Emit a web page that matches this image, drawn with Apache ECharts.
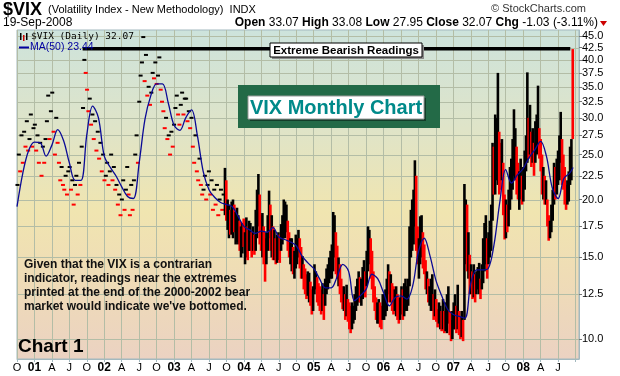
<!DOCTYPE html>
<html>
<head>
<meta charset="utf-8">
<script src="https://cdn.jsdelivr.net/npm/echarts@6/dist/echarts.min.js"></script>
<style>
  html, body { margin: 0; padding: 0; background: #fff; }
  #chart { width: 620px; height: 376px; }
</style>
</head>
<body>
<div id="chart"></div>
<script>
// ---- data ------------------------------------------------------------------

// weekly closes before Sep 2003 (drawn as ticks), first week starts 2000-10-02
const ticks2000 = [21.5, 25.0, 23.0, 27.5, 24.0, 28.0, 26.0, 29.5, 25.5, 27.0, 30.5, 26.0, 28.5];
const ticks2001 = [29.0, 25.5, 27.5, 24.0, 26.5, 22.5, 26.0, 24.0, 27.0, 29.5, 33.5, 27.0, 31.0,
  34.0, 28.0, 25.0, 30.0, 26.5, 24.0, 22.0, 23.5, 21.5, 21.0, 22.5, 20.5, 23.0,
  23.5, 21.0, 22.0, 19.5, 21.5, 22.5, 20.5, 24.0, 21.5, 26.0, 31.5, 40.0, 37.5,
  34.5, 31.0, 33.0, 29.0, 30.5, 27.0, 29.5, 25.5, 28.0, 24.5, 26.5, 23.0, 25.0, 22.0];
const ticks2002 = [22.5, 24.0, 21.5, 23.0, 25.0, 22.0, 23.5, 21.0, 21.5, 19.5, 20.5, 18.5,
  20.0, 22.0, 19.0, 21.0, 23.5, 20.5, 18.5, 21.5, 19.0, 22.0, 25.0, 27.5, 24.0,
  32.5, 37.0, 39.5, 44.8, 36.0, 41.0, 33.5, 35.0, 32.0, 34.0, 37.5, 36.5, 39.5, 35.5,
  37.0, 40.5, 34.5, 32.5, 31.0, 28.5, 30.0, 27.0, 27.5, 25.0, 28.0, 26.0, 29.0];
const ticks2003 = [31.5, 33.5, 30.5, 29.0, 32.0, 34.0, 30.5, 33.0, 33.0, 29.5, 31.0, 28.5, 30.0,
  26.0, 24.0, 27.5, 23.0, 22.0, 24.5, 21.5, 20.5, 21.0, 22.5, 20.0, 21.5, 23.0,
  20.5, 22.0, 19.0, 21.0, 19.5, 21.5, 18.5, 20.0, 21.0, 19.0, 20.5];

// weekly [low, high, down] bars from the week of 2003-09-22
const bars2003 = [[18.5,23.4,0],[18.0,22.0,1],
  [17.2,20.0,0],[16.5,19.5,0],[16.8,19.0,1],[16.8,19.8,0],
  [16.5,20.0,0],[17.0,19.5,1],[16.0,18.8,0],[16.2,19.2,0],
  [16.0,18.5,0],[15.5,18.0,1],[15.0,17.5,0],[15.3,17.8,0],[15.8,18.2,1]];
const bars2004 = [[14.5,17.0,0],[15.0,18.3,0],[14.8,17.5,1],[15.5,18.0,0],
  [15.5,17.8,0],[15.0,17.0,1],[15.5,17.5,0],[15.2,16.8,1],
  [15.5,19.0,0],[16.5,21.0,0],[17.5,22.7,0],[16.0,20.5,1],[15.5,18.5,1],
  [15.0,18.7,0],[14.5,17.5,1],[13.3,16.5,1],[14.5,17.0,0],
  [15.5,18.5,0],[16.5,20.9,0],[15.5,19.5,1],[15.0,18.5,0],[14.8,17.5,1],
  [14.8,17.2,0],[14.5,16.5,1],[14.6,16.8,0],[14.8,17.0,0],
  [14.6,16.8,1],[15.5,17.7,0],[16.0,18.5,0],[16.5,20.0,0],
  [16.5,19.8,0],[17.0,19.5,0],[15.5,18.0,1],[15.0,17.0,1],[14.5,16.5,0],
  [14.0,16.5,0],[13.8,15.8,1],[13.5,15.5,0],[14.2,16.8,0],
  [14.5,16.5,0],[15.0,17.2,0],[14.2,16.5,1],[13.5,15.8,1],
  [13.5,15.1,0],[12.8,14.5,1],[12.5,14.2,1],[12.2,13.8,1],[12.4,14.0,0],
  [12.0,13.9,0],[11.8,13.3,1],[11.3,12.8,1],[11.5,13.0,0]];
const bars2005 = [[12.5,14.5,0],[12.8,14.0,0],[12.0,13.6,1],[11.8,13.2,1],[11.5,13.0,1],
  [11.3,12.8,1],[11.5,13.2,0],[11.0,12.5,1],[11.8,13.5,0],
  [12.5,14.2,0],[12.8,14.5,0],[13.2,15.0,0],[13.5,15.5,0],
  [13.5,16.0,0],[14.0,18.8,0],[15.0,18.5,0],[13.8,17.0,1],
  [13.5,15.9,1],[13.0,15.0,0],[12.5,14.5,1],[12.0,13.5,1],[11.6,13.0,1],
  [11.5,13.0,0],[11.0,12.5,1],[11.2,13.1,0],[10.9,12.2,1],
  [10.5,12.0,1],[10.3,11.8,1],[10.5,12.0,0],[10.8,11.8,0],
  [11.0,12.5,0],[11.5,13.0,0],[11.8,13.5,0],[12.0,14.0,0],[12.0,13.6,1],
  [11.8,13.5,0],[12.2,14.3,0],[12.5,14.8,0],[12.3,14.0,1],
  [13.0,15.5,0],[14.0,17.5,0],[14.5,17.2,0],[13.5,16.5,1],[12.8,15.5,1],
  [12.0,14.0,1],[11.5,13.0,1],[11.0,12.3,1],[10.8,12.0,0],
  [10.8,12.2,0],[10.6,12.0,1],[10.5,11.8,1],[11.0,12.5,0]];
const bars2006 = [[11.0,12.5,0],[11.2,12.8,0],[11.5,13.5,0],[12.5,14.5,0],[12.0,14.0,1],
  [12.0,13.8,0],[11.5,13.2,1],[11.3,13.0,1],[11.5,12.8,0],
  [11.2,13.0,0],[11.0,12.5,1],[10.8,12.3,1],[11.0,12.3,0],
  [11.3,13.0,0],[11.0,12.8,1],[11.2,13.2,0],[11.5,13.5,0],
  [11.5,13.0,0],[11.8,13.5,0],[13.0,17.5,0],[15.0,19.0,0],[15.5,20.0,0],
  [16.0,21.0,0],[17.5,24.3,0],[15.5,22.5,1],[14.5,17.5,1],
  [13.5,16.5,0],[14.5,18.4,0],[15.0,18.5,0],[14.2,17.0,1],[13.8,16.0,1],
  [12.8,14.8,1],[12.5,14.0,0],[12.0,13.5,1],[11.8,13.0,0],
  [11.5,13.5,0],[11.5,13.8,0],[11.0,12.5,1],[11.2,12.8,0],
  [10.9,12.2,1],[10.6,11.6,1],[10.8,12.0,0],[10.5,11.8,0],[10.4,11.5,1],
  [10.5,12.2,0],[10.3,11.5,1],[10.4,12.0,0],[10.3,12.5,0],
  [10.8,13.0,0],[10.2,11.5,1],[9.9,11.0,1],[10.0,11.5,0]];
const bars2007 = [[10.5,12.0,0],[10.5,12.5,0],[10.3,11.8,1],[10.5,13.1,0],[10.2,11.5,1],
  [10.0,11.2,1],[10.1,11.5,0],[9.9,11.0,1],[11.0,21.6,0],
  [14.5,20.0,0],[14.0,19.5,1],[13.5,17.0,0],[12.5,15.2,1],
  [12.5,14.5,0],[12.2,14.0,1],[12.3,14.5,0],[12.0,13.8,1],[12.5,14.0,0],
  [12.8,14.3,0],[12.5,14.6,0],[12.2,13.5,1],[12.8,14.5,0],
  [13.2,16.5,0],[14.0,17.8,0],[14.5,18.5,0],[13.5,16.5,1],
  [14.5,17.0,0],[15.0,18.0,0],[15.5,19.5,0],[18.0,26.5,0],[20.5,26.0,1],
  [20.5,30.5,0],[22.0,30.0,0],[21.5,37.5,0],[20.5,28.0,1],
  [21.0,26.5,1],[22.0,27.0,0],[18.5,24.0,1],[16.4,20.5,1],
  [16.5,20.0,0],[17.0,19.5,1],[17.5,21.0,0],[19.0,23.5,0],[20.0,24.5,0],
  [21.0,27.0,0],[22.5,31.3,0],[22.0,28.5,0],[20.5,26.0,1],
  [20.0,24.0,1],[19.0,23.0,0],[20.0,24.5,0],[19.5,22.5,1],[19.8,23.5,0]];
const bars2008 = [[21.0,25.5,0],[23.0,27.5,0],[24.0,37.6,0],[24.5,30.0,1],
  [25.0,32.0,0],[23.5,28.0,1],[24.0,28.5,0],[22.5,26.5,1],
  [24.0,29.5,0],[25.0,30.5,0],[26.0,35.2,0],[24.5,28.5,1],[23.0,27.0,1],
  [20.5,25.0,1],[20.0,23.5,0],[19.5,22.5,1],[19.5,22.0,0],
  [17.5,20.0,1],[16.3,18.5,1],[16.5,18.0,0],[17.0,19.5,0],
  [18.0,21.0,0],[19.5,24.0,0],[20.0,23.5,1],[20.5,24.5,0],[21.5,25.5,0],
  [22.0,27.5,0],[24.0,30.9,0],[21.5,27.0,1],[21.0,25.0,1],
  [19.5,23.5,1],[19.0,21.5,1],[19.5,22.0,0],[19.8,23.0,0],
  [21.5,26.0,0],[22.0,27.0,0],[27.0,42.2,1]];

// MA(50), read at the start of each month from Oct 2000, plus the last value
const maMonthly = [19.3, 22.8, 25.5,
  26.6, 26.5, 24.8, 26.2, 28.3, 26.8, 24.0, 22.0, 22.0, 27.6, 31.8, 30.0,
  24.8, 23.5, 22.5, 21.3, 20.3, 20.1, 24.0, 29.8, 33.5, 35.5, 35.5, 32.3,
  28.9, 28.2, 30.0, 31.2, 27.5, 23.0, 21.0, 20.2, 19.7, 19.5, 19.3, 18.4,
  17.5, 17.2, 16.9, 17.1, 17.0, 17.4, 16.6, 16.4, 16.2, 15.9, 15.1, 14.6,
  14.2, 13.5, 12.9, 12.9, 13.6, 14.5, 14.0, 12.1, 12.4, 12.8, 13.8, 13.5,
  12.6, 11.8, 12.3, 12.4, 12.2, 13.0, 15.4, 16.5, 15.1, 13.4, 12.4, 11.6,
  11.3, 11.2, 11.1, 13.2, 14.1, 14.1, 14.2, 16.0, 19.8, 23.2, 21.7, 22.6,
  23.3, 24.6, 25.6, 26.7, 24.8, 21.2, 20.1, 22.2, 22.8];
const maLastDate = '2008-09-19';
const maLastValue = 23.44;

const yTicks = [10, 12.5, 15, 17.5, 20, 22.5, 25, 27.5, 30, 32.5, 35, 37.5, 40, 42.5, 45];
const quarterLetters = ['', 'A', 'J', 'O'];
const extremeLevel = 42.3;
const extremeFrom = 2001.69;
const extremeTo = 2008.675;

// ---- helpers ---------------------------------------------------------------
const DAY = 86400000;
const RED = '#ff0000';
const INK = '#000000';
const GRID_LINE = '#b3bda6';
const FONT = '"Liberation Sans", Arial, sans-serif';
const X_MIN = 2000.75, X_MAX = 2008.8;
const Y_MIN = 9.06, Y_MAX = 46.4;

function yearFrac(ms) {
  const y = new Date(ms).getUTCFullYear();
  const a = Date.UTC(y, 0, 1), b = Date.UTC(y + 1, 0, 1);
  return y + (ms - a) / (b - a);
}
// mid-week position of each weekly entry
function weekly(startIso, count) {
  const t0 = Date.parse(startIso + 'T00:00:00Z');
  return Array.from({ length: count }, (_, i) => yearFrac(t0 + (i * 7 + 2) * DAY));
}

const tickValues = [].concat(ticks2000, ticks2001, ticks2002, ticks2003);
const tickX = weekly('2000-10-02', tickValues.length);
const tickData = tickValues.map((v, i) => [tickX[i], v, i > 0 && v < tickValues[i - 1] ? 1 : 0]);

const bars = [].concat(bars2003, bars2004, bars2005, bars2006, bars2007, bars2008);
const barX = weekly('2003-09-22', bars.length);
const barData = bars.map((b, i) => [barX[i], b[0], b[1], b[2]]);

const maData = maMonthly.map((v, i) => [X_MIN + i / 12, v]);
maData.push([yearFrac(Date.parse(maLastDate + 'T00:00:00Z')), maLastValue]);

// one row per horizontal grid line: [x start, price, x end]
const hGridData = yTicks.map(v => [X_MIN, v, X_MAX]);

const chart = echarts.init(document.getElementById('chart'));

const option = {
  animation: false,
  backgroundColor: '#ffffff',
  grid: {
    left: 17, right: 41, top: 30, bottom: 17,
    show: true,
    borderColor: '#a3b9bf',
    borderWidth: 1,
    backgroundColor: {
      type: 'linear', x: 0, y: 0, x2: 0, y2: 1,
      colorStops: [
        { offset: 0, color: '#cde3dc' },
        { offset: 0.3, color: '#dfe4c8' },
        { offset: 0.55, color: '#f0e5b0' },
        { offset: 0.75, color: '#efdcb6' },
        { offset: 1, color: '#ebd2c2' }
      ]
    }
  },
  xAxis: {
    type: 'value',
    min: X_MIN,
    max: X_MAX,
    interval: 0.25,
    axisLine: { show: true, lineStyle: { color: '#a3b9bf' } },
    axisTick: { show: true, length: 3, lineStyle: { color: '#a3b9bf' } },
    splitLine: { show: true, lineStyle: { color: GRID_LINE, width: 1 } },
    axisLabel: {
      margin: 3,
      fontSize: 11,
      fontFamily: FONT,
      color: '#000',
      showMinLabel: true,
      showMaxLabel: false,
      formatter: function (v) {
        if (v > 2008.7) return '';
        const q = Math.round(v * 4) % 4;
        if (q === 0) return '{yr|' + String(Math.round(v)).slice(2) + '}';
        return quarterLetters[q];
      },
      rich: { yr: { fontWeight: 'bold', fontSize: 12, fontFamily: FONT, color: '#000' } }
    }
  },
  yAxis: [
    {
      // data axis (log scale)
      type: 'log',
      logBase: 10,
      min: Y_MIN,
      max: Y_MAX,
      position: 'left',
      axisLine: { show: false },
      axisTick: { show: false },
      axisLabel: { show: false },
      splitLine: { show: false }
    },
    {
      // label axis spanning the same range in natural-log units
      type: 'value',
      min: Math.log(Y_MIN),
      max: Math.log(Y_MAX),
      position: 'right',
      axisLine: { show: true, lineStyle: { color: '#a3b9bf' } },
      axisTick: {
        show: true, length: 3,
        customValues: yTicks.map(Math.log),
        lineStyle: { color: '#777' }
      },
      axisLabel: {
        margin: 3,
        fontSize: 11,
        fontFamily: FONT,
        color: '#000',
        customValues: yTicks.map(Math.log),
        formatter: v => Math.exp(v).toFixed(1)
      },
      splitLine: { show: false }
    }
  ],
  series: [
    {
      // horizontal grid lines, drawn like the bars but lying flat
      name: 'hgrid',
      type: 'custom',
      yAxisIndex: 0,
      z: 1,
      silent: true,
      data: hGridData,
      encode: { x: [0, 2], y: 1 },
      renderItem: function (params, api) {
        const a = api.coord([api.value(0), api.value(1)]);
        const b = api.coord([api.value(2), api.value(1)]);
        const y = Math.round(a[1]);
        return {
          type: 'rect',
          shape: { x: a[0], y: y, width: b[0] - a[0], height: 1 },
          style: { fill: GRID_LINE }
        };
      }
    },
    {
      name: 'ticks',
      type: 'custom',
      yAxisIndex: 0,
      z: 2,
      data: tickData,
      encode: { x: 0, y: 1 },
      renderItem: function (params, api) {
        const p = api.coord([api.value(0), api.value(1)]);
        return {
          type: 'rect',
          shape: { x: p[0] - 2, y: p[1] - 1, width: 4, height: 2 },
          style: { fill: api.value(2) ? RED : INK }
        };
      }
    },
    {
      name: 'bars',
      type: 'custom',
      yAxisIndex: 0,
      z: 2,
      data: barData,
      encode: { x: 0, y: [1, 2] },
      renderItem: function (params, api) {
        const lo = api.coord([api.value(0), api.value(1)]);
        const hi = api.coord([api.value(0), api.value(2)]);
        return {
          type: 'rect',
          shape: { x: lo[0] - 1.3, y: hi[1], width: 2.6, height: lo[1] - hi[1] },
          style: { fill: api.value(3) ? RED : INK }
        };
      }
    },
    {
      name: 'MA(50)',
      type: 'line',
      yAxisIndex: 0,
      z: 3,
      data: maData,
      smooth: 0.35,
      showSymbol: false,
      lineStyle: { color: '#0a0a96', width: 1.3 }
    },
    {
      name: 'extreme',
      type: 'line',
      yAxisIndex: 0,
      z: 4,
      data: [[extremeFrom, extremeLevel], [extremeTo, extremeLevel]],
      showSymbol: false,
      lineStyle: { color: '#000', width: 3.5 }
    }
  ],
  graphic: [
    // header
    { type: 'text', z: 20, style: { x: 3, y: 1, text: '$VIX', font: 'bold 18px ' + FONT, fill: '#000' } },
    { type: 'text', z: 20, style: { x: 48, y: 4, text: '(Volatility Index - New Methodology)  INDX', font: '11px ' + FONT, fill: '#000' } },
    { type: 'text', z: 20, style: { x: 3, y: 17, text: '19-Sep-2008', font: '12px ' + FONT, fill: '#000' } },
    { type: 'text', z: 20, style: { x: 586, y: 3, align: 'right', text: '\u00a9 StockCharts.com', font: '11px ' + FONT, fill: '#333' } },
    {
      type: 'text', z: 20,
      style: {
        x: 598, y: 17, align: 'right',
        text: '{b|Open} 33.07 {b|High} 33.08 {b|Low} 27.95 {b|Close} 32.07 {b|Chg} -1.03 (-3.11%)',
        fontSize: 12, fontFamily: FONT, fill: '#000',
        rich: { b: { fontWeight: 'bold', fontSize: 12, fontFamily: FONT, fill: '#000' } }
      }
    },
    { type: 'polygon', z: 20, shape: { points: [[600, 21], [607, 21], [603.5, 26]] }, style: { fill: '#cc0000' } },

    // legend
    { type: 'rect', z: 20, shape: { x: 20, y: 33, width: 1.5, height: 7 }, style: { fill: '#000' } },
    { type: 'rect', z: 20, shape: { x: 23, y: 35, width: 1.5, height: 6 }, style: { fill: '#cc0000' } },
    { type: 'rect', z: 20, shape: { x: 26, y: 33, width: 1.5, height: 7 }, style: { fill: '#000' } },
    { type: 'text', z: 20, style: { x: 31, y: 32, text: '$VIX (Daily) 32.07', font: '9.5px "DejaVu Sans Mono", monospace', fill: '#000' } },
    { type: 'line', z: 20, shape: { x1: 19, y1: 47.5, x2: 29, y2: 47.5 }, style: { stroke: '#0000a0', lineWidth: 2 } },
    { type: 'text', z: 20, style: { x: 30, y: 42, text: 'MA(50) 23.44', font: '10.5px ' + FONT, fill: '#0000a0' } },

    // "Extreme Bearish Readings" label
    { type: 'rect', z: 20, shape: { x: 272, y: 45, width: 152, height: 14 }, style: { fill: '#8a8a8a' } },
    { type: 'rect', z: 21, shape: { x: 270, y: 43, width: 152, height: 14 }, style: { fill: '#fff', stroke: '#000', lineWidth: 1 } },
    { type: 'text', z: 22, style: { x: 346, y: 50.5, align: 'center', verticalAlign: 'middle', text: 'Extreme Bearish Readings', font: 'bold 11.5px ' + FONT, fill: '#000' } },

    // "VIX Monthly Chart" title box
    { type: 'rect', z: 20, shape: { x: 238, y: 85, width: 202, height: 43 }, style: { fill: '#236a47' } },
    { type: 'rect', z: 21, shape: { x: 250, y: 98, width: 176, height: 23 }, style: { fill: '#123d29' } },
    { type: 'rect', z: 22, shape: { x: 248, y: 96, width: 176, height: 23 }, style: { fill: '#fff', stroke: '#9a9a9a', lineWidth: 1 } },
    { type: 'text', z: 23, style: { x: 336, y: 108, align: 'center', verticalAlign: 'middle', text: 'VIX Monthly Chart', font: 'bold 20px ' + FONT, fill: '#008a8a' } },

    // commentary
    {
      type: 'text', z: 20,
      style: {
        x: 24, y: 258,
        text: 'Given that the VIX is a contrarian\nindicator, readings near the extremes\nprinted at the end of the 2000-2002 bear\nmarket would indicate we\'ve bottomed.',
        font: 'bold 12px ' + FONT, lineHeight: 14, fill: '#111'
      }
    },
    { type: 'text', z: 20, style: { x: 18, y: 337, text: 'Chart 1', font: 'bold 19px ' + FONT, fill: '#000' } }
  ]
};

chart.setOption(option);
window.addEventListener('resize', () => chart.resize());
</script>
</body>
</html>
